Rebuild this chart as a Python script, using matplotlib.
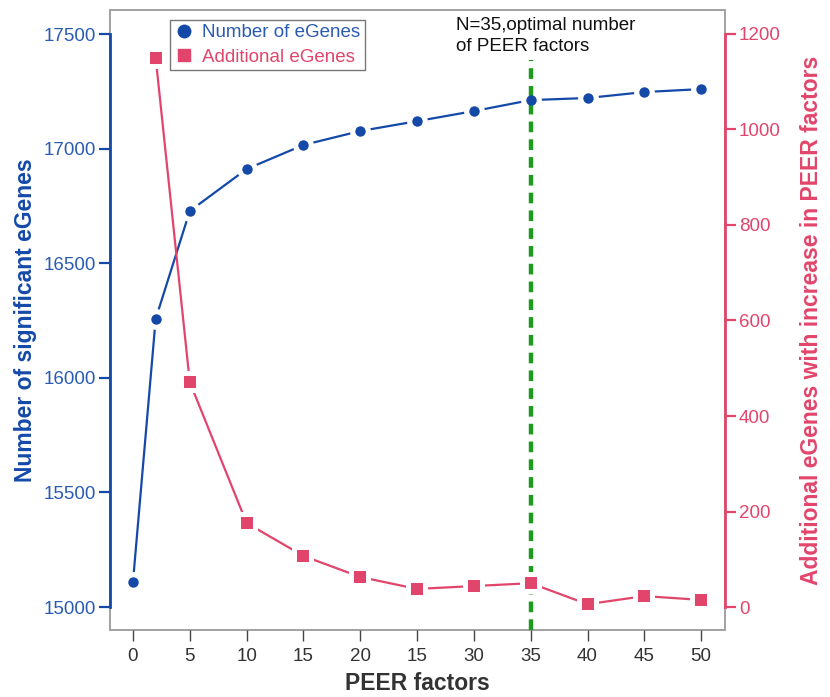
import matplotlib
matplotlib.use("Agg")
import matplotlib.pyplot as plt
from matplotlib.patches import Rectangle
from matplotlib.lines import Line2D

plt.rcParams['font.family'] = ['Liberation Sans', 'DejaVu Sans']

# ---- data ----
peer_factors = [0, 2, 5, 10, 15, 20, 25, 30, 35, 40, 45, 50]
num_egenes = [15109, 16257, 16728, 16911, 17016, 17077, 17120, 17164, 17212, 17221, 17247, 17260]
add_x = [2, 5, 10, 15, 20, 25, 30, 35, 40, 45, 50]
add_egenes = [1150, 471, 176, 107, 63, 38, 44, 50, 6, 23, 15]
xtick_pos = [0, 5, 10, 15, 20, 25, 30, 35, 40, 45, 50]
xtick_labels = ["0", "5", "10", "15", "20", "15", "30", "35", "40", "45", "50"]
left_ticks = [15000, 15500, 16000, 16500, 17000, 17500]
right_ticks = [0, 200, 400, 600, 800, 1000, 1200]
optimal_n = 35

BLUE = '#1449A8'
BLUE_T = '#2A5BB3'
RED = '#E2456B'
GREEN = '#1E9A1E'
GRAY = '#9A9A9A'

fig = plt.figure(figsize=(8.30, 6.97), dpi=100)
ax = fig.add_axes([110/830, 1-630/697, 615/830, 620/697])
ax2 = ax.twinx()

# frame
ax.add_patch(Rectangle((0, 0), 1, 1, transform=ax.transAxes, fill=False,
                       edgecolor=GRAY, lw=1.3, zorder=0.5, clip_on=False))

# blue series
ax.plot(peer_factors, num_egenes, color=BLUE, lw=1.6, zorder=2)
ax.plot(peer_factors, num_egenes, 'o', color='white', ms=15, mew=0, zorder=3)
ax.axvline(optimal_n, ymin=0, ymax=0.92, color=GREEN, lw=3.2, dashes=(2.4, 1.6), zorder=3.5)
ax.plot(peer_factors, num_egenes, 'o', color=BLUE, ms=7.5, mew=0, zorder=4)

# red series
ax2.plot(add_x, add_egenes, color=RED, lw=1.6, zorder=2)
ax2.plot(add_x, add_egenes, 's', color='white', ms=16, mew=0, zorder=3)
ax2.plot(add_x, add_egenes, 's', color=RED, ms=8.5, mew=0, zorder=4)

ax.set_xlim(-2.02, 52.1)
ax.set_ylim(14900, 17605)
ax2.set_ylim(-48, 1250)

for s in ['top', 'right', 'bottom']:
    ax.spines[s].set_visible(False)
for s in ['top', 'left', 'bottom']:
    ax2.spines[s].set_visible(False)
ax.spines['left'].set_bounds(15000, 17500)
ax.spines['left'].set_color(BLUE)
ax.spines['left'].set_linewidth(2.0)
ax2.spines['right'].set_bounds(0, 1200)
ax2.spines['right'].set_color(RED)
ax2.spines['right'].set_linewidth(2.0)

ax.set_xticks(xtick_pos)
ax.set_xticklabels(xtick_labels)
ax.set_yticks(left_ticks)
ax2.set_yticks(right_ticks)

ax.tick_params(axis='x', direction='out', length=8, width=1.0, color='#444444',
               labelsize=13.5, labelcolor='#333333', pad=5)
ax.tick_params(axis='y', direction='out', length=8, width=1.6, color=BLUE,
               labelsize=13.5, labelcolor=BLUE_T, pad=2)
ax2.tick_params(axis='y', direction='out', length=8, width=1.6, color=RED,
                labelsize=13.5, labelcolor=RED, pad=2)

ax.set_xlabel('PEER factors', fontsize=16.5, fontweight='bold', color='#333333', labelpad=5)
ax.set_ylabel('Number of significant eGenes', fontsize=16.5, fontweight='bold', color=BLUE, labelpad=5)
ax2.set_ylabel('Additional eGenes with increase in PEER factors', fontsize=16.5,
               fontweight='bold', color=RED, labelpad=14)

ax2.text(28.43, 0.989, 'N=35,optimal number\nof PEER factors', transform=ax.get_xaxis_transform(),
         ha='left', va='top', fontsize=13.5, color='#111111', linespacing=1.35)

handles = [Line2D([], [], ls='none', marker='o', ms=9, color=BLUE),
           Line2D([], [], ls='none', marker='s', ms=9, color=RED)]
leg = ax2.legend(handles, ['Number of eGenes', 'Additional eGenes'], loc='upper left',
                 bbox_to_anchor=(0.0976, 0.984), borderaxespad=0, fontsize=13.5,
                 frameon=True, fancybox=False, edgecolor='#777777', framealpha=1,
                 handlelength=1.0, handletextpad=0.5, labelspacing=0.41,
                 borderpad=0.22, markerscale=1.0)
leg.get_frame().set_linewidth(1.0)
leg.get_texts()[0].set_color(BLUE_T)
leg.get_texts()[1].set_color(RED)

fig.savefig('out.png', dpi=100, facecolor='white')
